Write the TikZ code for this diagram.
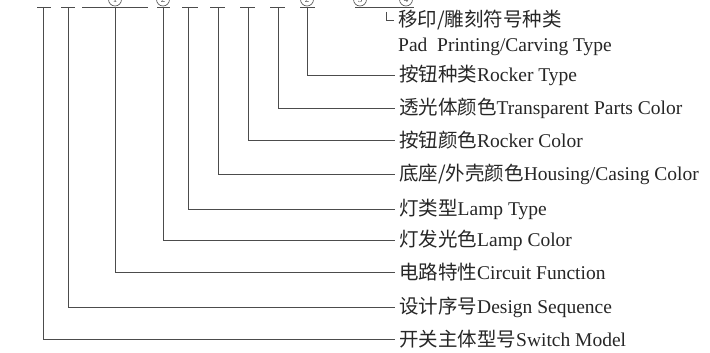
\documentclass[tikz,border=0pt]{standalone}
\usepackage{fontspec}
\setmainfont{Liberation Serif}
\newfontfamily\cjk{Noto Sans CJK SC}
\newcommand{\zh}[1]{{\cjk #1}}

\begin{document}
\begin{tikzpicture}[x=1pt,y=-1pt,
  lead/.style={line width=0.9pt,black!70},
  lbl/.style={anchor=west,inner sep=4pt,font=\fontsize{19.5}{22}\selectfont,text=black!85},
  num/.style={draw,circle,black!70,line width=0.6pt,inner sep=0pt,minimum size=13pt,font=\fontsize{9}{9}\selectfont}]

\useasboundingbox (0,0) rectangle (710,353);

% code positions
\foreach \a/\b in {37/51,61/75,82/148,157/170,182/198,210/225,240/255,270/285,300/315,355/414}{
  \draw[lead] (\a,7) -- (\b,7);
}
\foreach \x/\t in {115/1,163/2,307/2,360/3,406/4}{
  \node[num] (n\x) at (\x,-0.5) {\t};
}

\coordinate (SM) at (43,7);
\coordinate (DS) at (68,7);
\coordinate (CF) at (115,7);
\coordinate (LC) at (163,7);
\coordinate (LT) at (188,7);
\coordinate (HC) at (218,7);
\coordinate (RC) at (248,7);
\coordinate (TP) at (278,7);
\coordinate (RT) at (307,7);
\coordinate (PP) at (386,12);

\node[lbl] (tPP) at (394,20) {\zh{移印/雕刻符号种类}};
\node[lbl] (tPPe) at (394,47) {Pad\ \ Printing/Carving Type};
\node[lbl] (tRT) at (395,75) {\zh{按钮种类}Rocker Type};
\node[lbl] (tTP) at (395,108) {\zh{透光体颜色}Transparent Parts Color};
\node[lbl] (tRC) at (395,140) {\zh{按钮颜色}Rocker Color};
\node[lbl] (tHC) at (395,174) {\zh{底座/外壳颜色}Housing/Casing Color};
\node[lbl] (tLT) at (395,209) {\zh{灯类型}Lamp Type};
\node[lbl] (tLC) at (395,240) {\zh{灯发光色}Lamp Color};
\node[lbl] (tCF) at (395,272) {\zh{电路特性}Circuit Function};
\node[lbl] (tDS) at (395,307) {\zh{设计序号}Design Sequence};
\node[lbl] (tSM) at (395,339) {\zh{开关主体型号}Switch Model};

% leaders
\foreach \p in {SM,DS,CF,LC,LT,HC,RC,TP,RT,PP}{
  \draw[lead] (\p) |- (t\p.west);
}

\end{tikzpicture}
\end{document}
